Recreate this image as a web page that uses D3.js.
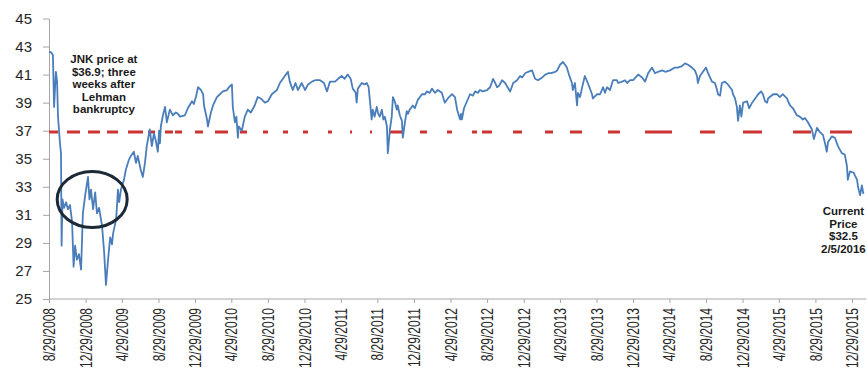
<!DOCTYPE html>
<html>
<head>
  <meta charset="utf-8">
  <title>JNK price</title>
  <script src="https://d3js.org/d3.v7.min.js"></script>
  <style>
    body { margin: 0; padding: 0; background: #fff; }
    svg { font-family: "Liberation Sans", Arial, sans-serif; }
    .note { font-weight: bold; font-size: 11.5px; fill: #1a1a1a; text-anchor: middle; }
    .axis path, .axis line { stroke: #a6a6a6; }
    .axis text { fill: #262626; }
  </style>
</head>
<body>
<div id="chart"></div>
<script>
// JNK weekly-ish closes
var dates = [
  "2008-08-29","2008-09-04","2008-09-11","2008-09-15","2008-09-18","2008-09-21","2008-09-25","2008-09-28","2008-10-05","2008-10-08","2008-10-10","2008-10-13","2008-10-18","2008-10-25","2008-10-31","2008-11-07","2008-11-14","2008-11-19","2008-11-24","2008-11-30","2008-12-07","2008-12-14","2008-12-20","2008-12-27",
  "2009-01-06","2009-01-11","2009-01-16","2009-01-23","2009-01-30","2009-02-05","2009-02-12","2009-02-22","2009-03-01","2009-03-07","2009-03-14","2009-03-21","2009-03-27","2009-03-31","2009-04-10","2009-04-16","2009-04-20","2009-04-26",
  "2009-05-06","2009-05-12","2009-05-22","2009-05-29","2009-06-08","2009-06-15","2009-06-21","2009-07-01","2009-07-08","2009-07-15","2009-07-21","2009-07-31","2009-08-07","2009-08-14","2009-08-20","2009-08-27",
  "2009-08-31","2009-09-03","2009-09-06","2009-09-13","2009-09-20","2009-09-26","2009-10-06","2009-10-16","2009-10-26","2009-11-02","2009-11-09","2009-11-25","2009-12-05","2009-12-19","2009-12-25",
  "2010-01-01","2010-01-08","2010-01-18","2010-01-25","2010-01-28","2010-02-07","2010-02-10","2010-02-20","2010-02-27","2010-03-12","2010-03-22","2010-04-01","2010-04-15","2010-04-21",
  "2010-05-01","2010-05-04","2010-05-11","2010-05-16","2010-05-21","2010-05-24","2010-06-03","2010-06-13","2010-06-23","2010-07-03","2010-07-16","2010-07-26","2010-08-05","2010-08-19",
  "2010-08-29","2010-09-11","2010-09-28","2010-10-08","2010-10-18","2010-10-28","2010-11-04","2010-11-10","2010-11-20","2010-11-29","2010-12-07","2010-12-20",
  "2010-12-31","2011-01-10","2011-01-23","2011-02-02","2011-02-19","2011-03-04","2011-03-14","2011-03-24","2011-04-10","2011-04-20",
  "2011-05-02","2011-05-12","2011-05-22","2011-06-01","2011-06-08","2011-06-18","2011-06-21","2011-06-25","2011-07-08","2011-07-18","2011-07-25","2011-07-31","2011-08-07","2011-08-10","2011-08-14","2011-08-20","2011-08-27",
  "2011-09-01","2011-09-06","2011-09-13","2011-09-18","2011-09-23","2011-09-30","2011-10-03","2011-10-10","2011-10-16","2011-10-20","2011-10-26","2011-11-02","2011-11-05","2011-11-12","2011-11-19","2011-11-22","2011-11-29","2011-12-05","2011-12-09","2011-12-15","2011-12-25",
  "2012-01-01","2012-01-11","2012-01-25","2012-02-04","2012-02-10","2012-02-20","2012-02-27","2012-03-08","2012-03-18","2012-03-31","2012-04-10","2012-04-20",
  "2012-05-04","2012-05-14","2012-05-21","2012-05-31","2012-06-03","2012-06-06","2012-06-13","2012-06-23","2012-07-03","2012-07-13","2012-07-20","2012-07-30","2012-08-05","2012-08-15",
  "2012-08-29","2012-09-08","2012-09-18","2012-09-25","2012-10-01","2012-10-08","2012-10-18","2012-10-28","2012-11-14","2012-11-24","2012-12-07","2012-12-17","2012-12-24",
  "2013-01-03","2013-01-13","2013-01-26","2013-02-05","2013-02-15","2013-03-01","2013-03-11","2013-03-21","2013-03-31","2013-04-13","2013-04-20",
  "2013-04-29","2013-05-09","2013-05-16","2013-05-22","2013-05-29","2013-06-08","2013-06-11","2013-06-18","2013-06-25","2013-06-28","2013-07-05","2013-07-11","2013-07-21","2013-07-31","2013-08-14","2013-08-17",
  "2013-08-31","2013-09-10","2013-09-20","2013-09-26","2013-10-03","2013-10-13","2013-10-23","2013-11-05","2013-11-09","2013-11-22","2013-12-02","2013-12-09","2013-12-19",
  "2013-12-29","2014-01-15","2014-01-28","2014-02-07","2014-02-17","2014-03-02","2014-03-12","2014-03-22","2014-04-05","2014-04-15",
  "2014-05-01","2014-05-17","2014-05-27","2014-06-10","2014-06-20","2014-06-30","2014-07-13","2014-07-23","2014-07-30","2014-08-02","2014-08-09","2014-08-19",
  "2014-08-29","2014-09-05","2014-09-18","2014-09-28","2014-10-05","2014-10-08","2014-10-15","2014-10-21","2014-10-31","2014-11-10","2014-11-24","2014-11-27","2014-12-04","2014-12-10","2014-12-14","2014-12-20","2014-12-25",
  "2014-12-31","2015-01-13","2015-01-20","2015-01-30","2015-02-09","2015-02-19","2015-03-01","2015-03-07","2015-03-14","2015-03-21","2015-03-24","2015-04-10","2015-04-23",
  "2015-05-02","2015-05-12","2015-05-26","2015-06-05","2015-06-15","2015-06-28","2015-07-08","2015-07-18","2015-07-25","2015-08-04","2015-08-17","2015-08-24",
  "2015-09-03","2015-09-13","2015-09-23","2015-09-30","2015-10-06","2015-10-10","2015-10-23","2015-11-02","2015-11-12","2015-11-25","2015-12-05","2015-12-12","2015-12-15","2015-12-22",
  "2016-01-04","2016-01-08","2016-01-15","2016-01-18","2016-01-25","2016-01-31","2016-02-05"
];
var prices = [
  42.6,42.6,42.4,38.7,40.0,41.2,40.5,38.0,36.0,35.4,28.8,32.1,31.5,31.9,31.4,31.7,30.5,27.3,28.8,27.8,28.2,27.1,31.1,32.3,
  33.7,32.1,32.8,31.4,32.6,31.1,31.5,30.2,28.3,26.0,27.8,29.4,28.9,29.7,30.7,32.8,31.9,32.8,
  33.5,34.2,34.9,35.2,35.5,34.7,35.2,34.2,33.7,34.7,35.9,37.1,35.9,36.8,36.3,35.5,
  37.0,36.1,37.3,38.1,38.7,37.6,38.5,38.1,38.3,38.2,38.0,38.1,38.6,39.1,38.9,
  39.4,40.1,39.9,39.6,38.8,37.8,37.3,38.3,38.8,39.4,39.6,39.8,39.9,40.1,
  40.3,38.7,37.6,38.0,36.5,37.3,37.0,38.0,38.5,38.3,38.8,39.4,39.3,39.0,
  39.1,39.6,39.9,40.4,40.7,41.0,41.2,40.5,39.9,40.4,39.9,40.4,
  39.9,40.3,40.5,40.6,40.6,40.4,39.8,40.5,40.5,40.7,
  40.9,40.7,41.0,40.7,40.0,39.7,39.0,40.0,40.4,40.3,40.4,40.1,38.5,37.8,38.5,38.0,38.7,
  38.2,38.0,38.5,37.8,38.0,37.3,35.4,37.1,38.0,39.4,39.1,38.5,38.8,38.1,37.7,36.5,37.6,38.4,38.2,38.5,38.8,
  38.6,39.2,39.6,39.6,39.8,39.7,40.0,39.7,39.9,39.7,39.0,39.3,
  39.6,39.4,38.5,37.8,38.2,37.8,38.6,39.1,39.6,39.5,39.8,39.7,39.9,39.8,
  39.9,40.1,40.7,40.4,40.1,40.2,40.6,40.4,39.8,40.4,40.6,40.9,40.8,
  41.1,41.2,41.3,40.7,40.6,40.8,41.0,41.1,41.1,41.2,41.3,
  41.7,41.9,41.7,41.5,41.0,40.4,39.9,40.4,38.8,39.7,39.4,40.0,40.9,40.4,39.6,39.3,
  39.6,39.6,40.1,39.7,40.1,39.9,40.6,40.6,40.4,40.5,40.6,40.4,40.6,
  40.6,41.0,40.8,40.5,41.1,41.5,41.1,41.2,41.3,41.2,
  41.3,41.5,41.5,41.6,41.8,41.7,41.5,41.3,40.9,40.4,40.9,41.2,
  41.5,41.1,40.5,40.4,39.9,39.6,39.5,40.4,40.5,40.3,39.9,39.6,39.3,38.7,37.7,38.8,38.0,
  39.0,39.1,38.6,39.0,39.3,39.6,39.8,39.6,39.1,39.0,39.3,39.6,39.6,
  39.4,39.6,39.3,38.8,38.6,38.1,38.0,37.8,37.9,37.6,37.1,36.4,
  37.2,36.9,36.7,36.1,35.5,36.2,36.6,36.5,35.9,35.4,35.3,34.5,33.5,34.1,
  34.0,33.8,33.5,33.0,32.4,33.1,32.5
];

// x tick labels (every four months) and y ticks
var xTicks = ["2008-08-29","2008-12-29","2009-04-29","2009-08-29","2009-12-29","2010-04-29","2010-08-29","2010-12-29",
  "2011-04-29","2011-08-29","2011-12-29","2012-04-29","2012-08-29","2012-12-29","2013-04-29","2013-08-29","2013-12-29",
  "2014-04-29","2014-08-29","2014-12-29","2015-04-29","2015-08-29","2015-12-29"];
var yTicks = [25, 27, 29, 31, 33, 35, 37, 39, 41, 43, 45];

// reference level: price three weeks after Lehman
var lehmanPrice = 36.9;
var lehmanEnd = "2015-12-29";

var width = 867, height = 369;
var parse = d3.timeParse("%Y-%m-%d");

var data = dates.map(function(d, i) { return { date: parse(d), price: prices[i] }; });

var svg = d3.select("#chart").append("svg")
  .attr("width", width)
  .attr("height", height);

var x = d3.scaleTime()
  .domain([parse(xTicks[0]), parse(xTicks[xTicks.length - 1])])
  .range([49, 852]);

var y = d3.scaleLinear()
  .domain([25, 45])
  .range([299, 18.5]);

// y axis
var yAxis = svg.append("g")
  .attr("class", "axis")
  .attr("transform", "translate(49,0)")
  .call(d3.axisLeft(y).tickValues(yTicks).tickSize(6).tickSizeOuter(0).tickPadding(11));
yAxis.selectAll("text").style("font-size", "15px");

// x axis
var xAxis = svg.append("g")
  .attr("class", "axis")
  .attr("transform", "translate(0,299)")
  .call(d3.axisBottom(x)
    .tickValues(xTicks.map(parse))
    .tickSize(4)
    .tickSizeOuter(0)
    .tickFormat(d3.timeFormat("%-m/%-d/%Y")));
xAxis.select(".domain").remove();
xAxis.insert("line", ":first-child")
  .attr("x1", x.range()[0])
  .attr("x2", x(data[data.length - 1].date) + 3)
  .attr("stroke", "#a6a6a6");
xAxis.selectAll("text")
  .style("font-size", "16px")
  .attr("x", -12)
  .attr("y", 0)
  .attr("dy", "0.35em")
  .attr("text-anchor", "end")
  .attr("transform", "rotate(-90) scale(0.75,1)");

// dashed reference line
svg.append("path")
  .datum([parse(dates[0]), parse(lehmanEnd)])
  .attr("d", d3.line().x(function(d) { return x(d); }).y(function() { return y(lehmanPrice); }))
  .attr("fill", "none")
  .attr("stroke", "#cc3333")
  .attr("stroke-width", 3)
  .attr("stroke-dasharray", "9,9,13,8,12,7,11,10,15,5,7,10,8,2,7,13,8,12,13,12,7,16,5,15,5,15,5,20,4,18,2,18,2,18,12,18,7,20,5,20,5,5,10,21,9,23,8,17,12,26,12,25,27,28,15,28,19,31,18,19,22");

// price line
svg.append("path")
  .datum(data)
  .attr("d", d3.line().x(function(d) { return x(d.date); }).y(function(d) { return y(d.price); }))
  .attr("fill", "none")
  .attr("stroke", "#4a7ebb")
  .attr("stroke-width", 1.8)
  .attr("stroke-linejoin", "round");

// circle around the post-Lehman trough
svg.append("ellipse")
  .attr("cx", x(parse("2009-01-20")))
  .attr("cy", y(32.1))
  .attr("rx", 35)
  .attr("ry", 28)
  .attr("fill", "none")
  .attr("stroke", "#1c2a38")
  .attr("stroke-width", 3);

// annotations
var noteLeft = ["JNK price at", "$36.9; three", "weeks after", "Lehman", "bankruptcy"];
svg.append("text")
  .attr("class", "note")
  .selectAll("tspan")
  .data(noteLeft)
  .enter().append("tspan")
    .attr("x", x(parse("2009-02-28")))
    .attr("y", function(d, i) { return 63 + i * 12.5; })
    .text(function(d) { return d; });

var noteRight = ["Current", "Price", "$32.5", "2/5/2016"];
svg.append("text")
  .attr("class", "note")
  .selectAll("tspan")
  .data(noteRight)
  .enter().append("tspan")
    .attr("x", x(data[data.length - 1].date) - 20)
    .attr("y", function(d, i) { return 215 + i * 12.7; })
    .text(function(d) { return d; });
</script>
</body>
</html>
